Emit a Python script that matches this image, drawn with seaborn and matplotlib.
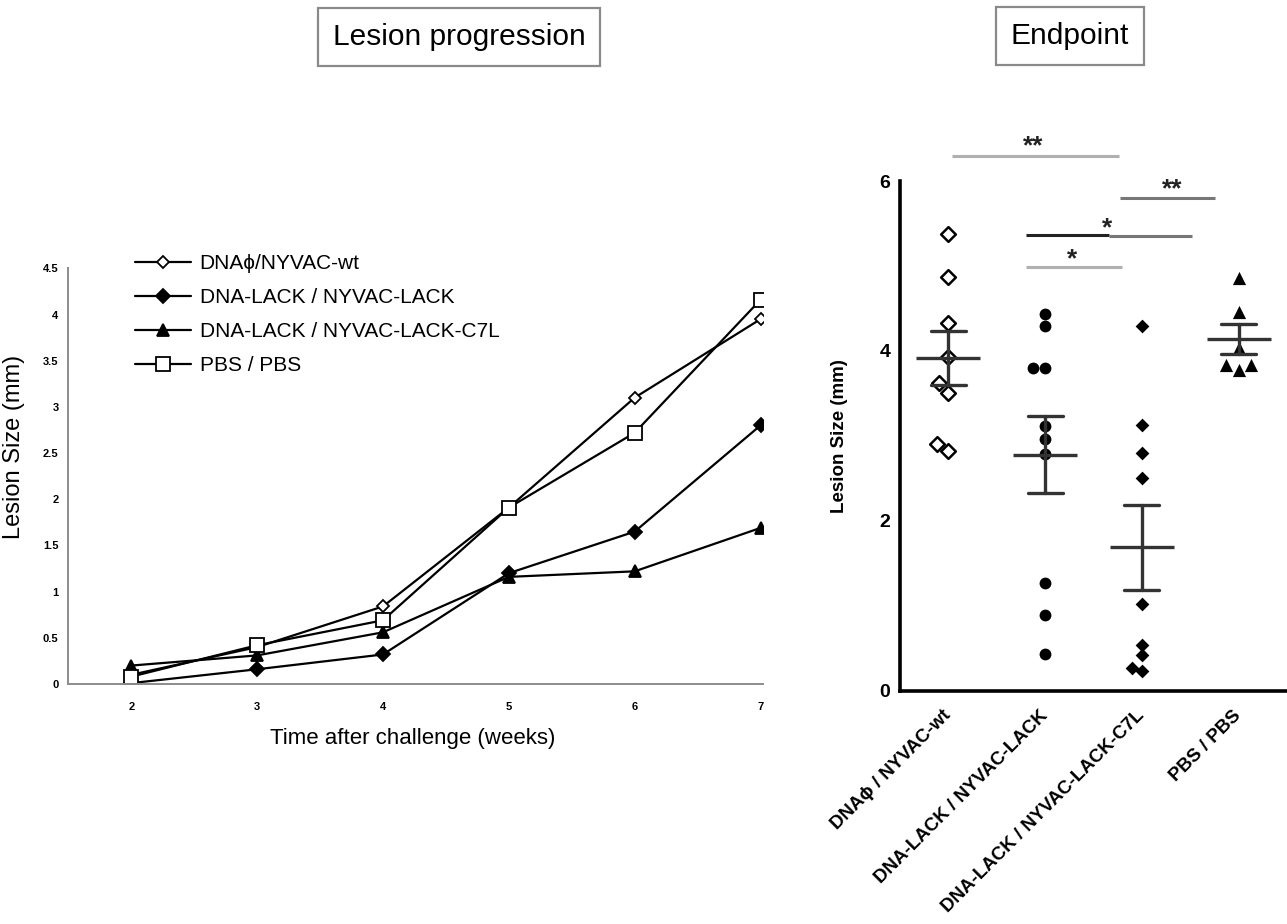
import numpy as np
import pandas as pd
import seaborn as sns
import matplotlib.pyplot as plt

sns.set_style("white")
plt.rcParams["font.family"] = ["Liberation Sans", "DejaVu Sans"]
plt.rcParams["text.color"] = "black"
plt.rcParams["axes.labelcolor"] = "black"
plt.rcParams["xtick.labelcolor"] = "black"
plt.rcParams["ytick.labelcolor"] = "black"

# lesion progression: mean lesion size (mm) per week after challenge
weeks = [2, 3, 4, 5, 6, 7]
wt_mean = [0.10, 0.40, 0.84, 1.91, 3.10, 3.95]
lack_mean = [0.01, 0.16, 0.32, 1.20, 1.65, 2.80]
c7l_mean = [0.20, 0.31, 0.56, 1.16, 1.22, 1.69]
pbs_mean = [0.08, 0.42, 0.69, 1.91, 2.72, 4.16]
legend_labels = ["DNAϕ/NYVAC-wt", "DNA-LACK / NYVAC-LACK",
                 "DNA-LACK / NYVAC-LACK-C7L", "PBS / PBS"]
left_yticks = [0, 0.5, 1, 1.5, 2, 2.5, 3, 3.5, 4, 4.5]

# endpoint: lesion size (mm) of individual animals
groups = ["DNAϕ / NYVAC-wt", "DNA-LACK / NYVAC-LACK",
          "DNA-LACK / NYVAC-LACK-C7L", "PBS / PBS"]
wt_end = [5.38, 4.87, 4.33, 3.93, 3.62, 3.51, 2.90, 2.82]
lack_end = [4.43, 4.29, 3.80, 3.80, 3.12, 2.96, 2.79, 1.27, 0.89, 0.44]
c7l_end = [4.29, 3.13, 2.80, 2.51, 1.02, 0.54, 0.42, 0.27, 0.23]
pbs_end = [4.86, 4.46, 4.04, 3.84, 3.84, 3.78]
right_yticks = [0, 2, 4, 6]

# significance bars (x from, x to, y, colour) and their stars (x, y, text)
sig_lines = [(0.04, 1.76, 6.30, "#b0b0b0"), (1.77, 2.76, 5.80, "#777777"),
             (0.80, 1.66, 5.36, "#222222"), (1.66, 2.52, 5.35, "#777777"),
             (0.80, 1.79, 4.99, "#b0b0b0")]
sig_stars = [(0.88, 6.46, "**"), (2.31, 5.95, "**"), (1.64, 5.49, "*"), (1.28, 5.13, "*")]

fig = plt.figure(figsize=(12.87, 9.24), dpi=100)

#%% left panel: lesion progression
ax1 = fig.add_axes([0.0531, 0.2597, 0.5398, 0.4499])
series = [wt_mean, lack_mean, c7l_mean, pbs_mean]
styles = [("D", 6.5, "white"), ("D", 7.5, "black"), ("^", 8.5, "black"), ("s", 9.5, "white")]
for vals, lab, (mk, ms, fc) in zip(series, legend_labels, styles):
    sns.lineplot(x=weeks, y=vals, ax=ax1, color="black", lw=1.6, marker=mk,
                 markersize=ms, markerfacecolor=fc, markeredgecolor="black",
                 markeredgewidth=1.3, label=lab)

ax1.set_xlim(1.5, 7.02)
ax1.set_ylim(0, 4.5)
ax1.set_xticks(weeks)
ax1.set_yticks(left_yticks)
ax1.set_yticklabels(["%g" % t for t in left_yticks], fontweight="bold")
ax1.set_xticklabels([str(w) for w in weeks], fontweight="bold")
ax1.tick_params(axis="both", length=3, width=1, color="#8c8c8c", labelsize=8, pad=4)
ax1.tick_params(axis="x", pad=10)
for side in ["top", "right"]:
    ax1.spines[side].set_visible(False)
for side in ["left", "bottom"]:
    ax1.spines[side].set_color("#8c8c8c")
    ax1.spines[side].set_linewidth(1.4)
ax1.set_ylabel("Lesion Size (mm)", fontsize=17)
ax1.yaxis.set_label_coords(-0.063, 0.57)
ax1.set_xlabel("Time after challenge (weeks)", fontsize=16)
ax1.xaxis.set_label_coords(0.496, -0.105)
leg = ax1.legend(loc="upper left", bbox_to_anchor=(0.105, 0.725),
                 bbox_transform=fig.transFigure, frameon=False, fontsize=15,
                 handlelength=2.7, handletextpad=0.4, labelspacing=0.72,
                 borderpad=0, borderaxespad=0)
for t in leg.get_texts():
    t.set_color("black")

#%% right panel: endpoint
ax2 = fig.add_axes([0.6993, 0.2522, 0.3007, 0.5519])
endpoint = [wt_end, lack_end, c7l_end, pbs_end]
end_df = pd.DataFrame({
    "group": np.repeat(groups, [len(v) for v in endpoint]),
    "size": np.concatenate(endpoint),
})
marks = [dict(marker="D", size=7.5, color="white", edgecolor="black", linewidth=1.8),
         dict(marker="o", size=8.5, color="black"),
         dict(marker="D", size=7, color="black"),
         dict(marker="^", size=9.5, color="black")]
for g, vals, mk in zip(groups, endpoint, marks):
    sns.swarmplot(x=[g] * len(vals), y=vals, order=groups, ax=ax2, zorder=3, **mk)

sns.pointplot(data=end_df, x="group", y="size", order=groups, errorbar="se",
              capsize=0.36, color="#333333", marker="_", markersize=46,
              markeredgewidth=2.4, linestyle="none", err_kws={"linewidth": 2.4},
              ax=ax2, zorder=4)

for x0, x1, y, c in sig_lines:
    ax2.plot([x0, x1], [y, y], color=c, lw=2.2, clip_on=False, solid_capstyle="butt")
for x, y, txt in sig_stars:
    ax2.text(x, y - 0.13, txt, ha="center", va="baseline", fontsize=19,
             fontweight="bold", color="#222222", clip_on=False)

ax2.set_xlim(-0.5, 3.5)
ax2.set_ylim(0, 6)
ax2.set_yticks(right_yticks)
ax2.set_yticklabels([str(t) for t in right_yticks], fontweight="bold", fontsize=14)
ax2.set_xticks(range(len(groups)))
ax2.set_xticklabels(groups, rotation=45, ha="right", va="center", rotation_mode="anchor",
                    fontsize=13.5, fontweight="bold")
ax2.tick_params(axis="y", length=6, width=2.2, color="black", pad=1)
ax2.tick_params(axis="x", length=8, width=2.2, color="black", pad=8)
for side in ["top", "right"]:
    ax2.spines[side].set_visible(False)
for side in ["left", "bottom"]:
    ax2.spines[side].set_color("black")
    ax2.spines[side].set_linewidth(2.6)
ax2.set_xlabel("")
ax2.set_ylabel("Lesion Size (mm)", fontsize=13.5, fontweight="bold")
ax2.yaxis.set_label_coords(-0.135, 0.5)

#%% boxed panel titles
box = dict(boxstyle="square,pad=0.5", fc="white", ec="#8a8a8a", lw=1.6)
fig.text(459 / 1287, 1 - 37 / 924, "Lesion progression", ha="center", va="center",
         fontsize=21.5, bbox=box)
fig.text(1070 / 1287, 1 - 36 / 924, "Endpoint", ha="center", va="center",
         fontsize=21.5, bbox=box)

fig.savefig("out.png", dpi=100)
